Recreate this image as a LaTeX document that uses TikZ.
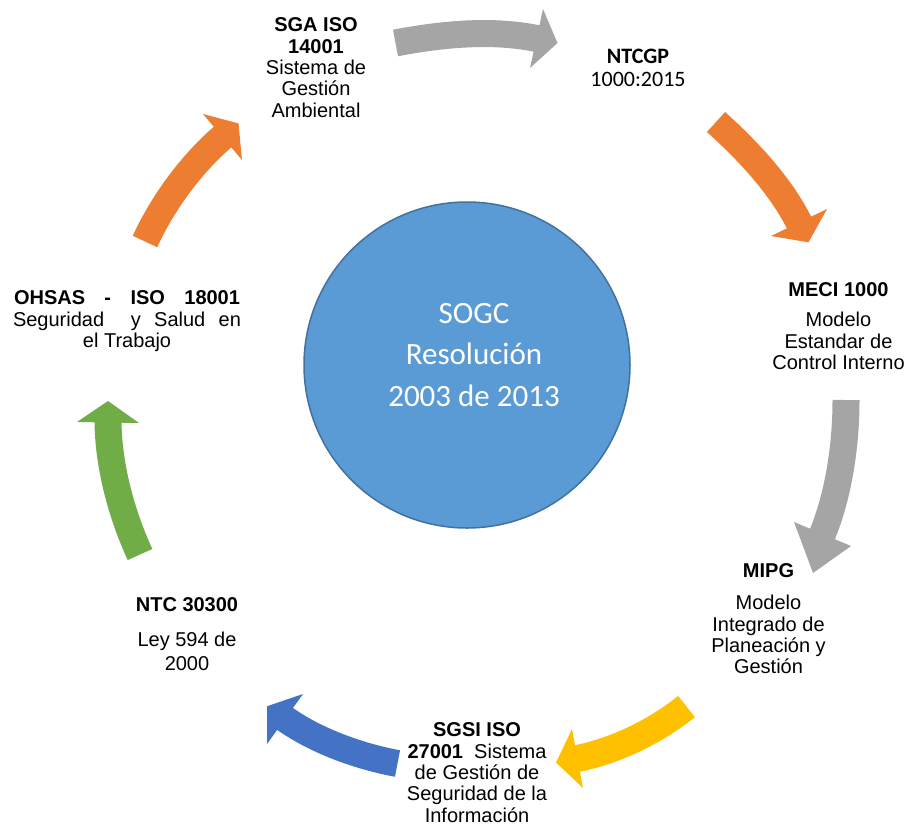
\documentclass[tikz,border=0pt]{standalone}
\usepackage{fontspec}
\setmainfont{Liberation Sans}
\newfontfamily\carlito{Carlito}
\definecolor{cgray}{HTML}{A5A5A5}
\definecolor{corange}{HTML}{ED7D31}
\definecolor{cyellow}{HTML}{FFC000}
\definecolor{cblue}{HTML}{4472C4}
\definecolor{cgreen}{HTML}{70AD47}
\definecolor{ccircle}{HTML}{5B9BD5}
\definecolor{cborder}{HTML}{41719C}
\begin{document}
\begin{tikzpicture}[x=1pt,y=-1pt,
  shaft/.style={line width=27pt},
  lbl/.style={align=center, inner sep=0pt, anchor=north, font={\fontsize{20}{21.3}\selectfont}}]
\path[use as bounding box] (0,0) rectangle (912,828);

% ---- arrow 1 (gray, top)
\coordinate (a1t) at (395.5,43);
\coordinate (a1e) at (539.4,39.1);
\coordinate (a1l) at (543,9);
\coordinate (a1r) at (530,68);
\coordinate (a1p) at (557.5,43);
\draw[shaft,cgray] (a1t) .. controls (441.6,34.1) and (493.5,29.0) .. (a1e);
\fill[cgray] (a1l) -- (a1p) -- (a1r) -- cycle;

% ---- arrow 2 (orange, upper right)
\coordinate (a2t) at (716,122);
\coordinate (a2e) at (800.3,225.2);
\coordinate (a2l) at (827,209);
\coordinate (a2r) at (771,236);
\coordinate (a2p) at (808.5,242.3);
\draw[shaft,corange] (a2t) .. controls (748,150.8) and (781.6,186.5) .. (a2e);
\fill[corange] (a2l) -- (a2p) -- (a2r) -- cycle;

% ---- arrow 3 (gray, right)
\coordinate (a3t) at (846,400);
\coordinate (a3e) at (821.3,536.8);
\coordinate (a3l) at (851,546);
\coordinate (a3r) at (794,522);
\coordinate (a3p) at (813,573);
\draw[shaft,cgray] (a3t) .. controls (846,445) and (838.8,495.3) .. (a3e);
\fill[cgray] (a3l) -- (a3p) -- (a3r) -- cycle;

% ---- arrow 4 (yellow, bottom right)
\coordinate (a4t) at (686.5,706.5);
\coordinate (a4e) at (574.6,759.0);
\coordinate (a4l) at (572,729);
\coordinate (a4r) at (583,788);
\coordinate (a4p) at (556,762.5);
\draw[shaft,cyellow] (a4t) .. controls (655.4,731.7) and (613.9,751.7) .. (a4e);
\fill[cyellow] (a4l) -- (a4p) -- (a4r) -- cycle;

% ---- arrow 5 (blue, bottom left)
\coordinate (a5t) at (397.5,763.5);
\coordinate (a5e) at (282.6,717.2);
\coordinate (a5l) at (303,694);
\coordinate (a5r) at (267,744);
\coordinate (a5p) at (267.2,706.2);
\draw[shaft,cblue] (a5t) .. controls (358.2,756.2) and (315.0,740.6) .. (a5e);
\fill[cblue] (a5l) -- (a5p) -- (a5r) -- cycle;

% ---- arrow 6 (green, left)
\coordinate (a6t) at (140,554.5);
\coordinate (a6e) at (108,419.5);
\coordinate (a6l) at (77,422);
\coordinate (a6r) at (139,423);
\coordinate (a6p) at (108,401);
\draw[shaft,cgreen] (a6t) .. controls (121.2,513.6) and (108,464.5) .. (a6e);
\fill[cgreen] (a6l) -- (a6p) -- (a6r) -- cycle;

% ---- arrow 7 (orange, upper left)
\coordinate (a7t) at (145,241.5);
\coordinate (a7e) at (224.8,135.1);
\coordinate (a7l) at (203,114);
\coordinate (a7r) at (242,160);
\coordinate (a7p) at (238.5,123.4);
\draw[shaft,corange] (a7t) .. controls (162.9,202.4) and (192.0,162.9) .. (a7e);
\fill[corange] (a7l) -- (a7p) -- (a7r) -- cycle;

% ---- central circle
\node[circle, draw=cborder, line width=1.5pt, fill=ccircle, minimum size=326pt, inner sep=0pt] (sogc) at (467,365) {};
\node[align=center, inner sep=0pt, anchor=north, text=white, font={\carlito\fontsize{31}{41.5}\selectfont}] (sogctxt) at (474,302.7) {SOGC\\Resolución\\2003 de 2013};

% ---- labels
\node[lbl] (sga) at (316,17.7) {\textbf{SGA ISO}\\\textbf{14001}\\Sistema de\\Gestión\\Ambiental};
\node[align=center, inner sep=0pt, anchor=north, font={\carlito\fontsize{22}{23}\selectfont}] (ntcgp) at (638,48.8) {\textbf{NTCGP}\\1000:2015};
\node[lbl] (meci) at (838.5,282.7) {\textbf{MECI 1000}\\[8.7pt]Modelo\\Estandar de\\Control Interno};
\node[lbl] (mipg) at (768.5,563.7) {\textbf{MIPG}\\[10.7pt]Modelo\\Integrado de\\Planeación y\\Gestión};
\node[lbl] (sgsi) at (477,722.7) {\textbf{SGSI ISO}\\\textbf{27001}\ \ Sistema\\de Gestión de\\Seguridad de la\\Información};
\node[lbl] (ntc) at (187,597.7) {\textbf{NTC 30300}\\[13.7pt]Ley 594 de\\[2.7pt]2000};
\node[lbl] (ohsas) at (127,290.7) {\makebox[226pt][s]{\textbf{OHSAS - ISO 18001}}\\\makebox[228pt][s]{Seguridad\ \ y Salud en}\\el Trabajo};
\end{tikzpicture}
\end{document}
